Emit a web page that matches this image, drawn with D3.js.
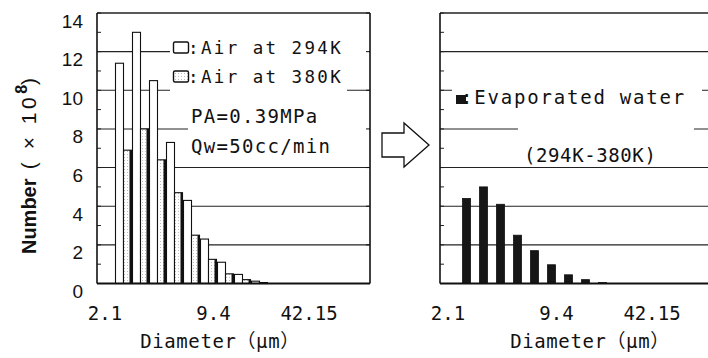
<!DOCTYPE html>
<html><head><meta charset="utf-8">
<script src="https://cdn.jsdelivr.net/npm/d3@7"></script>
<style>body{margin:0;background:#fff}</style>
</head><body><svg id="c" width="708" height="358"></svg>
<script>
// ---------- data ----------
const bins = ["1","2","3","4","5","6","7","8","9"];            // size classes
const air294 = [11.4, 13.0, 10.5, 7.3, 4.3, 2.3, 1.1, 0.47, 0.12];
const air380 = [6.9, 8.0, 6.4, 4.7, 2.5, 1.25, 0.5, 0.2, 0.05];
const evaporated = [4.4, 5.0, 4.1, 2.5, 1.7, 0.97, 0.45, 0.2, 0.05];
const yTicks = [0, 2, 4, 6, 8, 10, 12, 14];
const xTickValues = [2.1, 9.4, 42.15];
const xTickLabels = ["2.1", "9.4", "42.15"];

const svg = d3.select("#c");
const MONO = "'DejaVu Sans Mono','Noto Sans CJK JP',monospace";
const SANS = "'Liberation Sans',Arial,sans-serif";

const defs = svg.append("defs");
const pat = defs.append("pattern").attr("id","dots").attr("patternUnits","userSpaceOnUse")
  .attr("width",3).attr("height",3);
pat.append("rect").attr("width",3).attr("height",3).attr("fill","#fff");
pat.append("rect").attr("x",1).attr("y",1).attr("width",1).attr("height",1).attr("fill","#bdbdbd");

const y = d3.scaleLinear().domain([0, 14]).range([283.5, 13]);

function panel(x0, x1, titleX) {
  const g = svg.append("g");
  const band = d3.scaleBand().domain(bins).range([x0 + 18, x0 + 171]);
  const dia = d3.scaleLog().domain(xTickValues).range([x0 + 8, x0 + 116.5, x0 + 212]);
  g.selectAll("line.grid").data(yTicks.filter(v => v > 0)).join("line")
    .attr("x1", x0).attr("x2", x1).attr("y1", d => y(d)).attr("y2", d => y(d))
    .attr("stroke", "#222").attr("stroke-width", d => d === 14 ? 1.6 : 1.1);
  g.selectAll("line.mt").data(d3.range(0, 15)).join("line")
    .attr("x1", x0).attr("x2", x0 + 4).attr("y1", d => y(d)).attr("y2", d => y(d))
    .attr("stroke", "#222").attr("stroke-width", 1);
  return {g, band, dia, x0, x1, titleX};
}

function frame(p) {
  const g = p.g;
  g.append("line").attr("x1", p.x0).attr("x2", p.x0).attr("y1", y(14)).attr("y2", y(0))
    .attr("stroke", "#111").attr("stroke-width", 1.6);
  g.append("line").attr("x1", p.x1).attr("x2", p.x1).attr("y1", y(14)).attr("y2", y(0))
    .attr("stroke", "#111").attr("stroke-width", 1.6);
  g.selectAll("line.rt").data(yTicks).join("line")
    .attr("x1", p.x1 - 4).attr("x2", p.x1).attr("y1", d => y(d)).attr("y2", d => y(d))
    .attr("stroke", "#111").attr("stroke-width", 1);
  g.append("line").attr("x1", p.x0).attr("x2", p.x1).attr("y1", y(0)).attr("y2", y(0))
    .attr("stroke", "#111").attr("stroke-width", 1.8);
  g.selectAll("text.xt").data(xTickValues).join("text")
    .attr("x", d => p.dia(d)).attr("y", 320).attr("text-anchor", "middle")
    .attr("font-family", MONO).attr("font-size", 19).attr("fill", "#111")
    .text((d, i) => xTickLabels[i]);
  g.append("text").attr("x", p.titleX).attr("y", 348).attr("text-anchor", "middle")
    .attr("font-family", MONO).attr("font-size", 19).attr("letter-spacing", 0.6).attr("fill", "#111")
    .text("Diameter（μm）");
}

// ---------- left panel ----------
const L = panel(97, 370, 220);
L.g.append("rect").attr("x", 170).attr("y", 38).attr("width", 199).attr("height", 22).attr("fill", "#fff");
L.g.append("rect").attr("x", 170).attr("y", 60).attr("width", 177).attr("height", 36).attr("fill", "#fff");
L.g.append("rect").attr("x", 188).attr("y", 100).attr("width", 181).attr("height", 58).attr("fill", "#fff");

const bw = 8;
L.g.selectAll("rect.a294").data(air294).join("rect")
  .attr("x", (d, i) => L.band(bins[i]) + L.band.bandwidth() / 2 - bw)
  .attr("width", bw).attr("y", d => y(d)).attr("height", d => y(0) - y(d))
  .attr("fill", "#fff").attr("stroke", "#111").attr("stroke-width", 1.1);
L.g.selectAll("rect.a380").data(air380).join("rect")
  .attr("x", (d, i) => L.band(bins[i]) + L.band.bandwidth() / 2)
  .attr("width", bw).attr("y", d => y(d)).attr("height", d => y(0) - y(d))
  .attr("fill", "url(#dots)").attr("stroke", "#111").attr("stroke-width", 1.1);
L.g.selectAll("line.a380e").data(air380).join("line")
  .attr("x1", (d, i) => L.band(bins[i]) + L.band.bandwidth() / 2 + bw - 1)
  .attr("x2", (d, i) => L.band(bins[i]) + L.band.bandwidth() / 2 + bw - 1)
  .attr("y1", d => y(d)).attr("y2", y(0)).attr("stroke", "#111").attr("stroke-width", 2);
frame(L);

// y axis labels
svg.selectAll("text.yt").data(yTicks).join("text")
  .attr("x", 83).attr("y", d => y(d) + 14.5).attr("text-anchor", "end")
  .attr("font-family", SANS).attr("font-size", 19).attr("fill", "#111").text(d => d);
const yl = svg.append("text").attr("transform", "translate(36,166) rotate(-90)")
  .attr("text-anchor", "middle").attr("font-family", SANS)
  .attr("font-weight", "bold").attr("font-size", 20).attr("fill", "#111");
yl.append("tspan").text("Number");
yl.append("tspan").attr("letter-spacing", 3.5).attr("font-weight", "normal").attr("font-size", 21).text(" ( × 10");
yl.append("tspan").attr("dy", -9).attr("font-size", 16).text("8");
yl.append("tspan").attr("dy", 9).attr("font-weight", "normal").attr("font-size", 21).text(")");

// legend left
const legItems = [{label: ":Air at 294K", fill: "#fff", y: 54}, {label: ":Air at 380K", fill: "url(#dots)", y: 83}];
legItems.forEach(it => {
  L.g.append("rect").attr("x", 173.5).attr("y", it.y - 12).attr("width", 15).attr("height", 11)
    .attr("rx", 1.5).attr("fill", it.fill).attr("stroke", "#111").attr("stroke-width", 1.4);
  L.g.append("text").attr("x", 188).attr("y", it.y).attr("font-family", MONO).attr("font-size", 17.5)
    .attr("letter-spacing", 2.4).attr("fill", "#111").text(it.label);
});
L.g.append("text").attr("x", 191).attr("y", 123).attr("font-family", MONO).attr("font-size", 19)
  .attr("letter-spacing", 1.3).attr("fill", "#111").text("PA=0.39MPa");
L.g.append("text").attr("x", 191).attr("y", 153).attr("font-family", MONO).attr("font-size", 19)
  .attr("letter-spacing", 1.3).attr("fill", "#111").text("Qw=50cc/min");

// ---------- right panel ----------
const R = panel(440, 713, 590);
R.g.append("rect").attr("x", 452).attr("y", 82).attr("width", 250).attr("height", 28).attr("fill", "#fff");
R.g.append("rect").attr("x", 518).attr("y", 118).attr("width", 176).attr("height", 30).attr("fill", "#fff");
R.g.selectAll("rect.ev").data(evaporated).join("rect")
  .attr("x", (d, i) => R.band(bins[i]) + R.band.bandwidth() / 2 - bw / 2)
  .attr("width", bw).attr("y", d => y(d)).attr("height", d => y(0) - y(d))
  .attr("fill", "#161616").attr("stroke", "#111").attr("stroke-width", 0.8);
frame(R);
R.g.append("rect").attr("x", 456).attr("y", 95).attr("width", 10).attr("height", 9).attr("fill", "#161616");
R.g.append("text").attr("x", 461).attr("y", 104).attr("font-family", MONO).attr("font-size", 19)
  .attr("letter-spacing", 1.8).attr("fill", "#111").text(":Evaporated water");
R.g.append("text").attr("x", 524).attr("y", 162).attr("font-family", MONO).attr("font-size", 19)
  .attr("letter-spacing", 0.6).attr("fill", "#111").text("(294K-380K)");

// ---------- arrow ----------
const ax = 382, ay = 145;
svg.append("path")
  .attr("d", d3.line()([[ax, ay - 12], [ax + 22, ay - 12], [ax + 22, ay - 22], [ax + 47, ay],
    [ax + 22, ay + 22], [ax + 22, ay + 12], [ax, ay + 12]]) + "Z")
  .attr("fill", "#fff").attr("stroke", "#111").attr("stroke-width", 1.3);
</script></body></html>
